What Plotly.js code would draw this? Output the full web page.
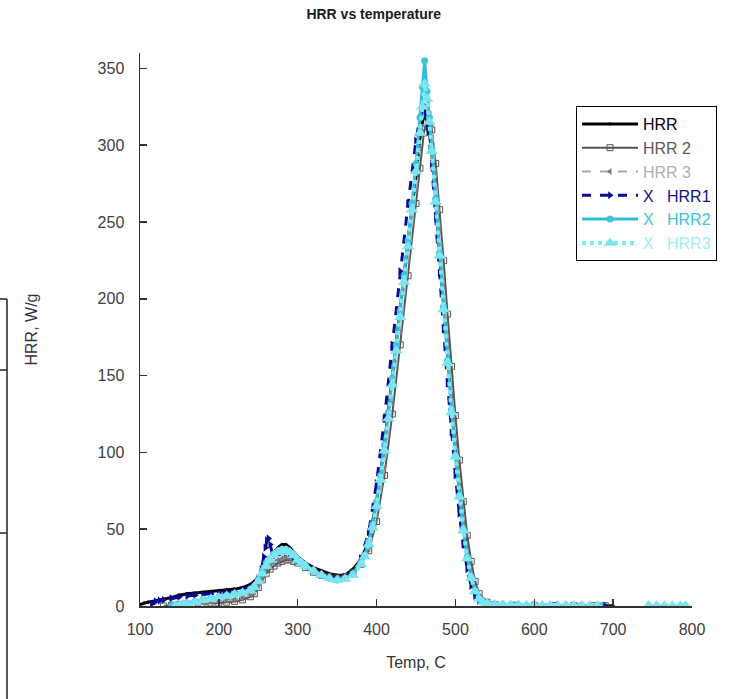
<!DOCTYPE html>
<html>
<head>
<meta charset="utf-8">
<script src="https://cdn.plot.ly/plotly-3.0.1.min.js"></script>
<style>html,body{margin:0;padding:0;background:#fff;}#chart{width:740px;height:699px;}</style>
</head>
<body>
<div id="chart"></div>
<script>
// ---- data ----
const seriesNames = ["HRR", "HRR 2", "HRR 3", "X   HRR1", "X   HRR2", "X   HRR3"];
const xTicks = [100, 200, 300, 400, 500, 600, 700, 800];
const yTicks = [0, 50, 100, 150, 200, 250, 300, 350];

const tempHRR = [100,105,110,120,130,140,150,160,170,180,190,200,210,220,230,240,245,250,255,260,265,270,275,280,285,290,295,300,310,320,330,340,350,360,370,380,390,400,410,420,430,440,450,455,460,465,470,475,480,485,490,495,500,505,510,515,520,525,530,540,550,560,580,600,650,700];
const valHRR  = [1,2,2.5,3.5,4.5,5.5,7,8,8.5,9,9.5,10,10.5,11,12,14,16,19,23,28,32,35,38,40,40,38,35,32,28,25,23,21,20,20,24,30,42,68,105,150,195,238,280,305,320,315,295,265,228,195,160,128,100,75,52,34,20,11,5,2,1,0.6,0.4,0.3,0.2,0.2];

const tempHRR2 = [130,140,150,160,170,180,190,200,210,220,230,240,245,250,255,260,265,270,275,280,285,290,295,300,310,320,330,340,350,360,370,380,390,400,410,420,430,440,450,455,460,465,470,475,480,485,490,495,500,505,510,515,520,525,530,540,550,575,600,625,650,675,690];
const valHRR2  = [0,0.5,1,1,1.5,1.5,2,2,2.5,3,4,6,8,12,17,21,24,26,28,29,30,30,29,28,25,22,20,19,18,19,22,27,36,55,85,125,170,215,262,285,308,320,310,288,258,225,190,156,124,95,68,46,29,16,8,2.5,1,0.5,0.4,0.3,0.3,0.2,0.2];

const tempHRR3 = [145,150,160,170,180,190,200,210,220,230,240,245,250,255,260,265,270,275,280,285,290,295,300,310,320,330,340,350,360,370,380,390,400,410,420,430,440,450,455,460,465,470,475,480,485,490,495,500,505,510,515,520,525,530,540,550,575,600,620,640,655,670,685];
const valHRR3  = [0,0.5,1,1.5,2,2.5,3,3.5,4,5,7,9,13,18,23,26,28,30,31,32,31,30,29,26,23,21,19,18.5,19,22,27,37,58,90,132,178,224,270,298,325,330,312,282,245,208,172,138,106,78,54,35,21,11,5,1.8,0.9,0.5,0.4,0.3,0.3,0.2,0.2,0.2];

const tempXHRR1 = [115,120,125,130,140,150,160,170,180,190,200,210,220,230,240,245,250,254,257,259,261,263,265,268,272,276,280,285,290,295,300,310,320,330,340,350,360,370,380,390,400,410,420,430,440,450,455,460,465,470,475,480,485,490,495,500,505,510,515,520,525,530,540,550,570,600,630,660,690];
const valXHRR1  = [1.5,3,3.5,4,5,6,6.5,7,7.5,8,8.5,9,9.5,10.5,12,14,18,24,32,38,43,44,40,34,33,34,35,35,34,32,30,27,24,21,19,18,19,22,31,48,80,122,170,218,262,303,318,326,312,288,254,217,180,145,113,85,60,40,24,13,6.5,3,1.5,1,0.6,0.5,0.4,0.3,0.2];

const tempXHRR2 = [140,145,150,155,160,170,180,190,200,210,220,230,240,245,250,255,260,265,270,275,280,285,290,295,300,305,310,320,330,340,350,360,370,380,385,390,395,400,405,410,415,420,425,430,435,440,445,450,455,458,461,464,467,470,475,480,485,490,495,500,505,510,515,520,525,530,535,540,550,560,580,600,620,640,660,683];
const valXHRR2  = [0,0.5,1,1.5,2,3,4,5,6,7,8,9,11,13,17,23,28,31,34,36,37,37,35,33,30,28,26,23,20,18,17,18,21,28,33,42,53,68,85,105,126,148,170,192,215,238,262,288,318,338,355,335,318,298,265,230,195,160,128,98,72,50,32,19,10,5,2.5,1.5,1,0.8,0.6,0.5,0.4,0.3,0.3,0.2];

const tempXHRR3 = [145,150,155,160,170,180,190,200,210,220,230,240,245,250,255,260,265,270,275,280,285,290,295,300,305,310,320,330,340,350,360,370,380,385,390,395,400,405,410,415,420,425,430,435,440,445,450,455,458,461,464,467,470,475,480,485,490,495,500,505,510,515,520,525,530,535,540,550,560,570,580,590,600,610,620,630,640,650,660,670,680,710,745,755,765,775,785,792];
const valXHRR3  = [0,0.5,1,1.5,2.5,3.5,4.5,5.5,6.5,7.5,8.5,10,12,16,21,26,30,33,35,36,36,35,33,30,28,26,23,20,18,17,17.5,20,27,32,40,51,65,82,101,122,144,166,188,211,234,258,283,308,325,340,330,315,296,263,228,193,158,126,97,71,49,31,18,9.5,4.5,2.5,1.5,1,0.8,0.7,0.6,0.5,0.5,0.4,0.4,0.3,0.3,0.3,0.2,0.2,0.2,null,0.3,0.3,0.2,0.2,0.2,0.2];

// ---- styles ----
const FONT = "Liberation Sans, Arial, sans-serif";
function label(txt, col) {
  return '<span style="color:' + col + '">' + txt.replace(/ /g, '\u00a0') + '</span>';
}

const traces = [
  {x: tempHRR, y: valHRR, name: label(seriesNames[0], '#000000'), mode: 'lines+markers',
   line: {color: '#000000', width: 3}, marker: {symbol: 'diamond', size: 3, color: '#000000'}},
  {x: tempHRR2, y: valHRR2, name: label(seriesNames[1], '#5a5a5a'), mode: 'lines+markers',
   line: {color: '#555555', width: 2}, marker: {symbol: 'square-open', size: 6, color: '#555555'}},
  {x: tempHRR3, y: valHRR3, name: label(seriesNames[2], '#b0b0b0'), mode: 'lines+markers',
   line: {color: '#a8a8a8', width: 2, dash: 'dash'}, marker: {symbol: 'triangle-left', size: 6, color: '#7a7a7a'}},
  {x: tempXHRR1, y: valXHRR1, name: label(seriesNames[3], '#10108a'), mode: 'lines+markers',
   line: {color: '#0a0a96', width: 3, dash: 'dash'}, marker: {symbol: 'triangle-right', size: 7, color: '#0a0a96'}},
  {x: tempXHRR2, y: valXHRR2, name: label(seriesNames[4], '#3cc3d8'), mode: 'lines+markers',
   line: {color: '#2fbcd4', width: 3}, marker: {symbol: 'circle', size: 7, color: '#3cc6dc'}},
  {x: tempXHRR3, y: valXHRR3, name: label(seriesNames[5], '#9feef6'), mode: 'lines+markers',
   line: {color: '#7fe6f2', width: 4, dash: 'dot'}, marker: {symbol: 'triangle-up', size: 11, color: '#7ae5f1'}}
];

const L = 140, R = 48, T = 53, B = 93, W = 740, H = 699;
const pw = W - L - R, ph = H - T - B;
function px(xp) { return (xp - L) / pw; }
function py(yp) { return (H - B - yp) / ph; }

const layout = {
  width: W, height: H,
  margin: {l: L, r: R, t: T, b: B, pad: 0},
  paper_bgcolor: '#ffffff', plot_bgcolor: '#ffffff',
  font: {family: FONT, size: 16, color: '#333333'},
  title: {text: '<b>HRR vs temperature</b>', x: 0.505, xref: 'container', xanchor: 'center',
          y: 1 - 14 / H, yref: 'container', yanchor: 'middle',
          font: {family: FONT, size: 14, color: '#1a1a1a'}},
  xaxis: {range: [100, 800], tickvals: xTicks, ticktext: xTicks.map(String),
          showgrid: false, zeroline: false, showline: true, linecolor: '#333333', linewidth: 1.5,
          ticks: 'inside', ticklen: 7, tickwidth: 1.5, tickcolor: '#333333',
          tickfont: {family: FONT, size: 16, color: '#404040'}, ticklabelstandoff: 8,
          title: {text: 'Temp, C', standoff: 20, font: {family: FONT, size: 16, color: '#333333'}}},
  yaxis: {range: [0, 360], tickvals: yTicks, ticktext: yTicks.map(String),
          showgrid: false, zeroline: false, showline: true, linecolor: '#333333', linewidth: 1.5,
          ticks: 'inside', ticklen: 7, tickwidth: 1.5, tickcolor: '#333333',
          tickfont: {family: FONT, size: 16, color: '#404040'}, ticklabelstandoff: 11,
          title: {text: 'HRR, W/g', standoff: 56, font: {family: FONT, size: 16, color: '#333333'}}},
  legend: {x: px(576), y: py(106), xanchor: 'left', yanchor: 'top',
           bgcolor: '#ffffff', bordercolor: '#000000', borderwidth: 1, itemwidth: 56,
           font: {family: FONT, size: 16, color: '#000000'}, tracegroupgap: 0},
  showlegend: true,
  shapes: [
    {type: 'line', xref: 'paper', yref: 'paper', x0: px(7), x1: px(7), y0: py(299), y1: py(H + 2), line: {color: '#222', width: 1.5}},
    {type: 'line', xref: 'paper', yref: 'paper', x0: px(-2), x1: px(7), y0: py(299), y1: py(299), line: {color: '#222', width: 1.5}},
    {type: 'line', xref: 'paper', yref: 'paper', x0: px(-2), x1: px(7), y0: py(370), y1: py(370), line: {color: '#222', width: 1.5}},
    {type: 'line', xref: 'paper', yref: 'paper', x0: px(-2), x1: px(7), y0: py(533), y1: py(533), line: {color: '#222', width: 1.5}}
  ]
};

Plotly.newPlot('chart', traces, layout, {displayModeBar: false, staticPlot: true});
</script>
</body>
</html>
